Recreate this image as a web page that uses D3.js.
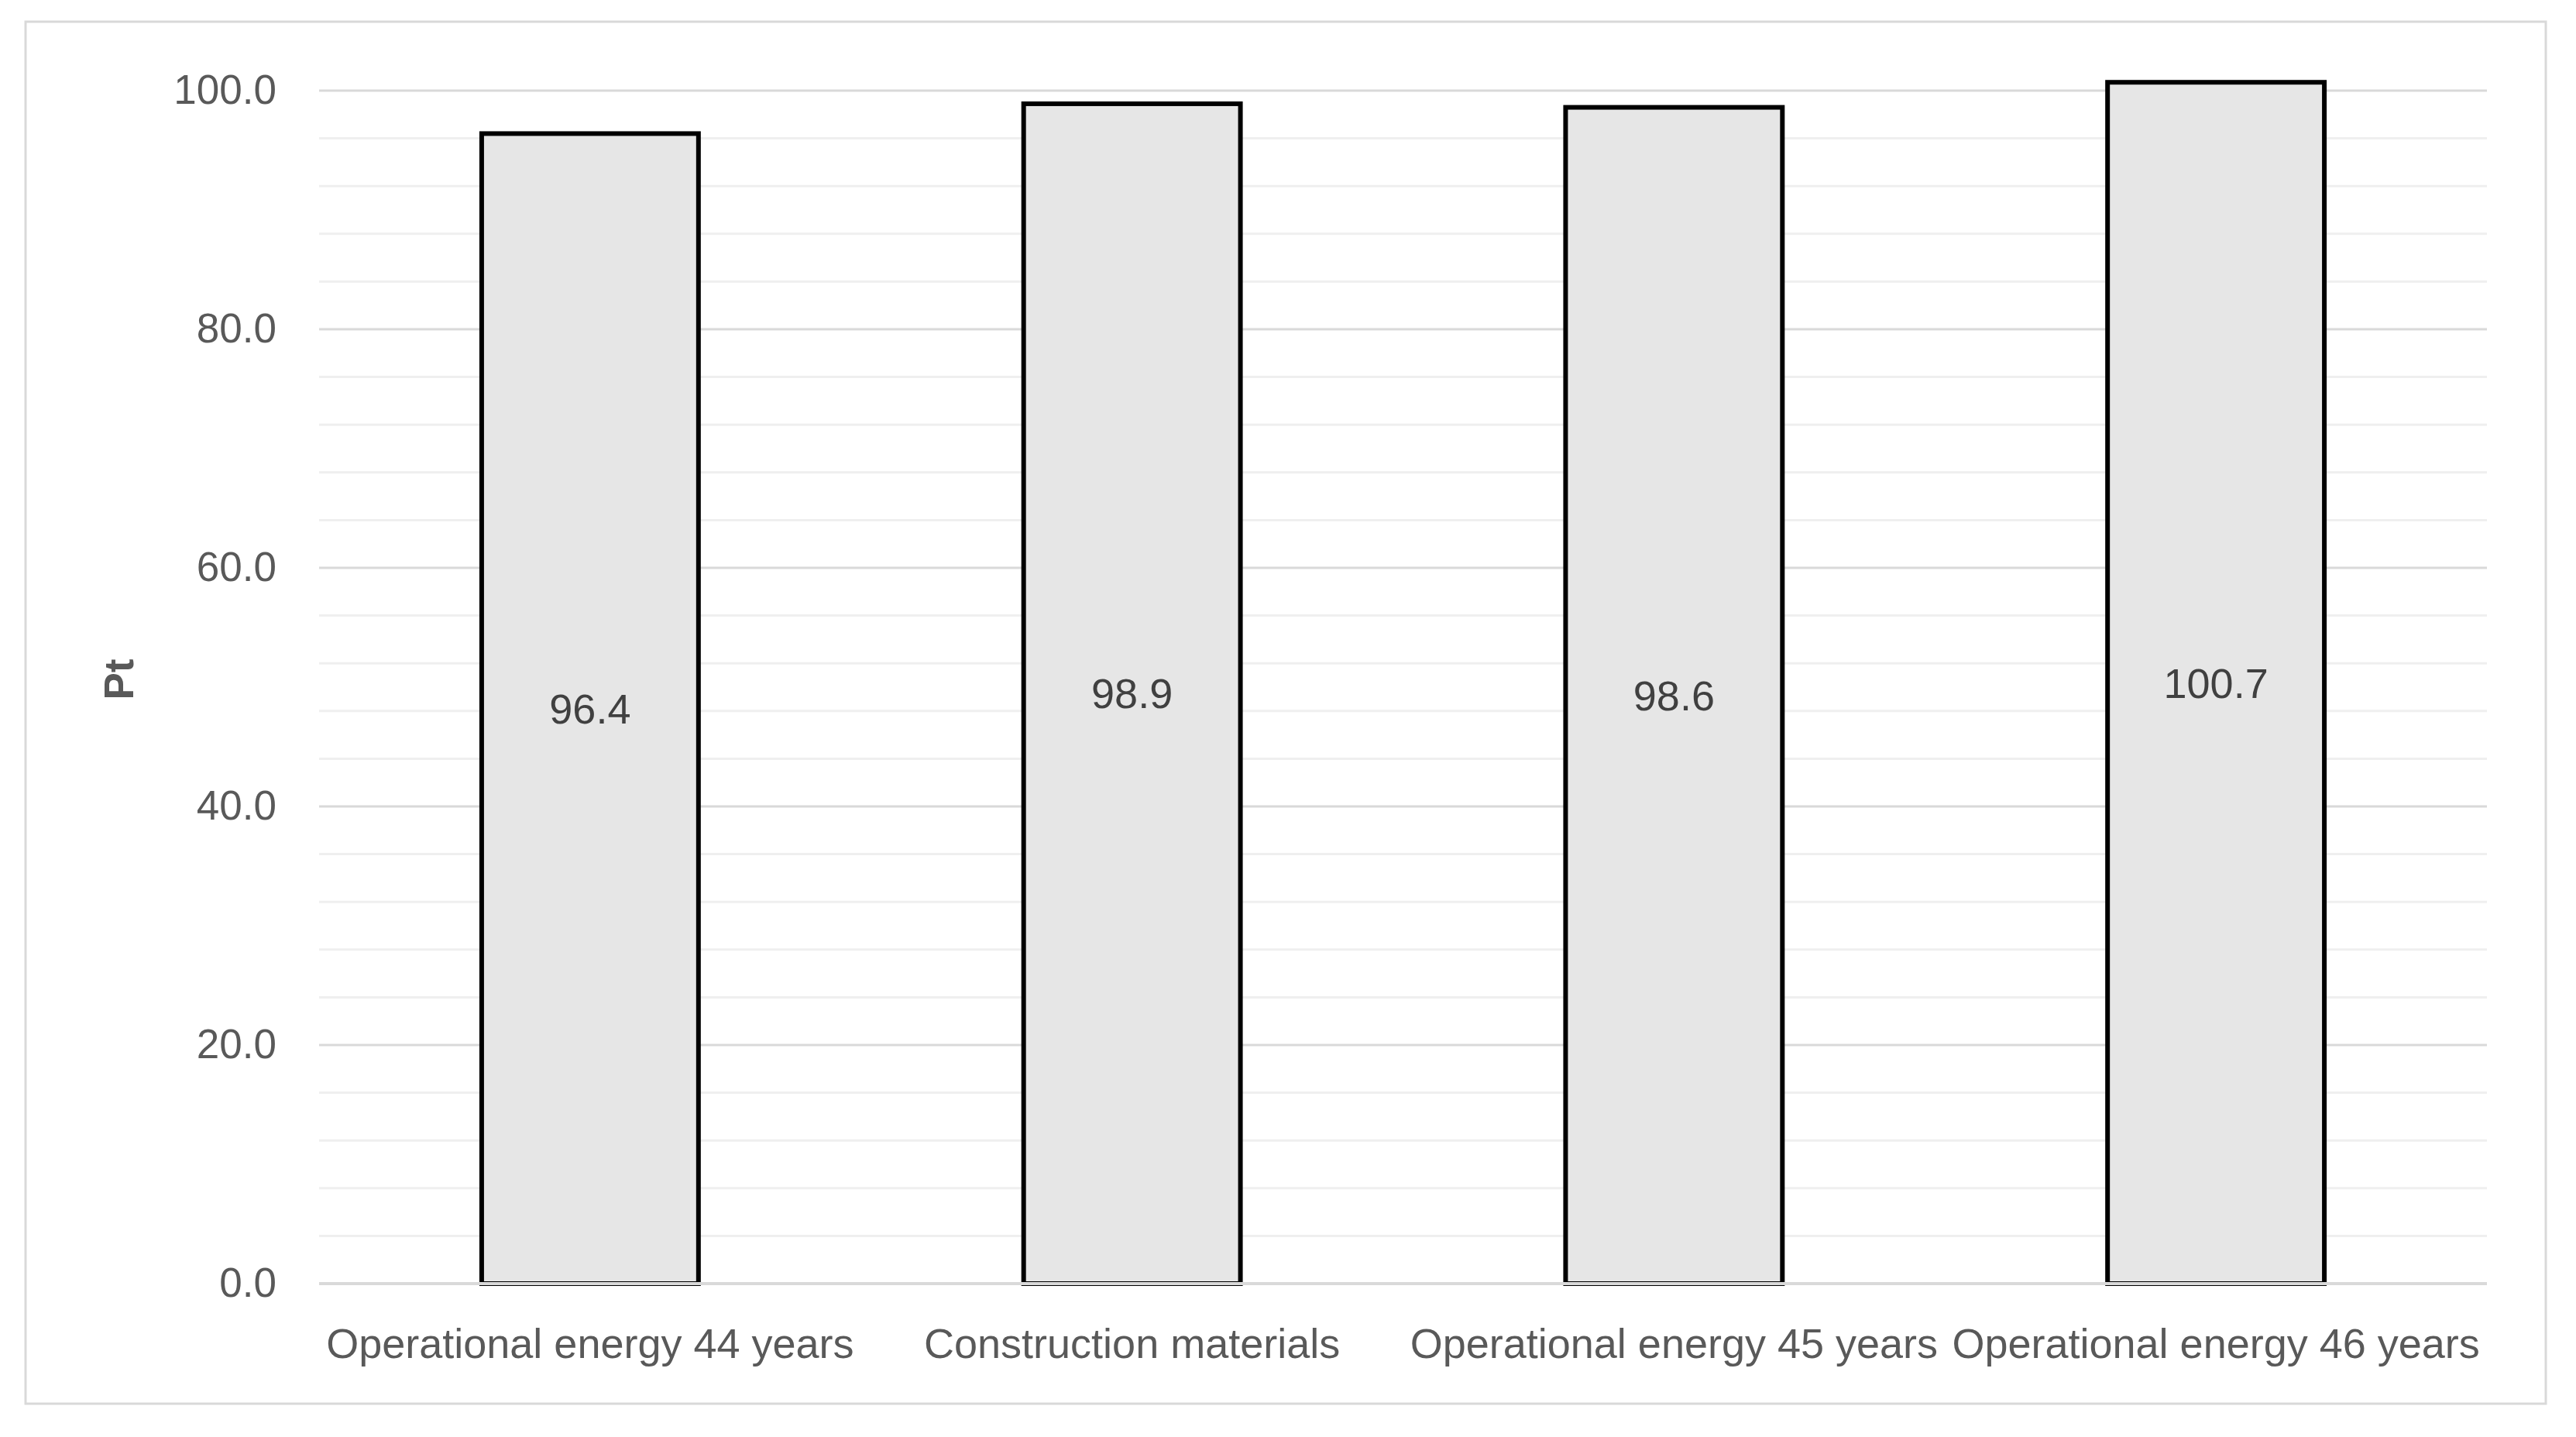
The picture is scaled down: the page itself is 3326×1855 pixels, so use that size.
<!DOCTYPE html>
<html>
<head>
<meta charset="utf-8">
<script src="https://cdn.jsdelivr.net/npm/d3@7"></script>
<style>
  body { margin: 0; background: #fff; }
  text { font-family: "Liberation Sans", Arial, sans-serif; }
</style>
</head>
<body>
<div id="chart"></div>
<script>
var categories = ["Operational energy 44 years", "Construction materials", "Operational energy 45 years", "Operational energy 46 years"];
var values = [96.4, 98.9, 98.6, 100.7];
var majorTicks = [0, 20, 40, 60, 80, 100];
var minorTicks = [4, 8, 12, 16, 24, 28, 32, 36, 44, 48, 52, 56, 64, 68, 72, 76, 84, 88, 92, 96];
var yTitle = "Pt";

var w = 3326, h = 1855;
var plotL = 412, plotR = 3211, plotT = 117, plotB = 1657;

var svg = d3.select("#chart")
	.append("svg")
	.attr("width", w)
	.attr("height", h);

// outer frame
svg.append("rect")
	.attr("x", 33)
	.attr("y", 28)
	.attr("width", 3254)
	.attr("height", 1784)
	.attr("fill", "#fff")
	.attr("stroke", "#d9d9d9")
	.attr("stroke-width", 3);

var x = d3.scaleBand()
	.domain(categories)
	.range([plotL, plotR])
	.paddingInner(0.6)
	.paddingOuter(0.3);

var y = d3.scaleLinear()
	.domain([0, 100])
	.range([plotB, plotT]);

// minor gridlines
svg.append("g").selectAll(".minor")
	.data(minorTicks)
	.enter()
	.append("line")
	.attr("class", "minor")
	.attr("x1", plotL)
	.attr("x2", plotR)
	.attr("y1", function(d){ return y(d); })
	.attr("y2", function(d){ return y(d); })
	.attr("stroke", "#efefef")
	.attr("stroke-width", 3);

// major gridlines
svg.append("g").selectAll(".major")
	.data(majorTicks)
	.enter()
	.append("line")
	.attr("class", "major")
	.attr("x1", plotL)
	.attr("x2", plotR)
	.attr("y1", function(d){ return y(d); })
	.attr("y2", function(d){ return y(d); })
	.attr("stroke", "#d9d9d9")
	.attr("stroke-width", 3);

// y axis labels
var yAxis = d3.axisLeft(y)
	.tickValues(majorTicks)
	.tickSize(0)
	.tickPadding(55)
	.tickFormat(d3.format(".1f"));
var yAxisCall = svg.append("g")
	.attr("transform", "translate(" + plotL + ",0)")
	.call(yAxis);
yAxisCall.select(".domain").remove();
yAxisCall.selectAll("text")
	.attr("font-family", "Liberation Sans, Arial, sans-serif")
	.attr("font-size", 53)
	.attr("fill", "#595959");

// bars
svg.selectAll(".bar")
	.data(values)
	.enter()
	.append("rect")
	.attr("class", "bar")
	.attr("x", function(d, i){ return x(categories[i]); })
	.attr("y", function(d){ return y(d); })
	.attr("width", x.bandwidth())
	.attr("height", function(d){ return y(0) - y(d); })
	.attr("fill", "#e6e6e6")
	.attr("stroke", "#000")
	.attr("stroke-width", 6);

// baseline over bar bottoms
svg.append("line")
	.attr("x1", plotL)
	.attr("x2", plotR)
	.attr("y1", y(0))
	.attr("y2", y(0))
	.attr("stroke", "#d9d9d9")
	.attr("stroke-width", 4);

// value labels
svg.selectAll(".vlabel")
	.data(values)
	.enter()
	.append("text")
	.attr("class", "vlabel")
	.attr("x", function(d, i){ return x(categories[i]) + x.bandwidth()/2; })
	.attr("y", function(d){ return (y(d) + y(0))/2; })
	.attr("dy", "0.35em")
	.attr("text-anchor", "middle")
	.attr("font-family", "Open Sans, sans-serif")
	.attr("font-size", 54)
	.attr("fill", "#404040")
	.text(function(d){ return d3.format(".1f")(d); });

// x axis labels
var xAxis = d3.axisBottom(x)
	.tickSize(0)
	.tickPadding(58);
var xAxisCall = svg.append("g")
	.attr("transform", "translate(0," + plotB + ")")
	.call(xAxis);
xAxisCall.select(".domain").remove();
xAxisCall.selectAll("text")
	.attr("font-family", "Liberation Sans, Arial, sans-serif")
	.attr("font-size", 54)
	.attr("fill", "#595959");

// y title
svg.append("text")
	.attr("transform", "translate(172,877) rotate(-90)")
	.attr("text-anchor", "middle")
	.attr("font-size", 53)
	.attr("font-weight", "bold")
	.attr("fill", "#595959")
	.text(yTitle);
</script>
</body>
</html>
